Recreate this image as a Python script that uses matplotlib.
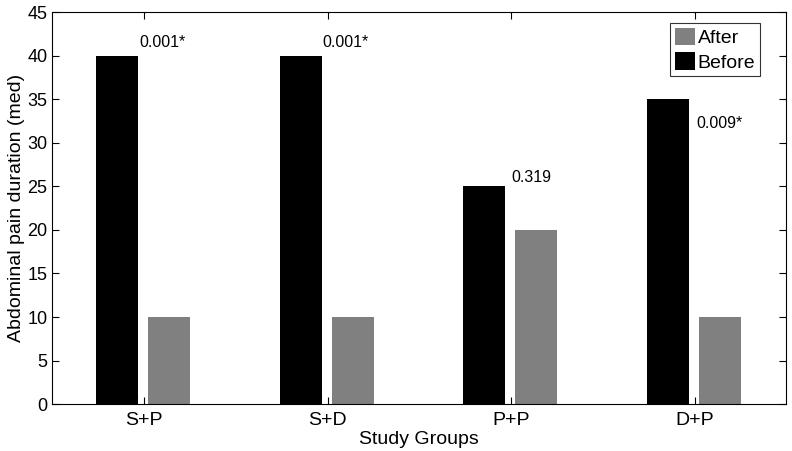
import matplotlib.pyplot as plt
import numpy as np

plt.rcParams['font.family'] = ['Liberation Sans', 'DejaVu Sans']

groups = ['S+P', 'S+D', 'P+P', 'D+P']
before = [40, 40, 25, 35]
after = [10, 10, 20, 10]
p_labels = ['0.001*', '0.001*', '0.319', '0.009*']
p_ypos = [40.6, 40.6, 25.2, 31.3]
p_xoff = [0.005, 0.005, 0.03, 0.04]

x = np.arange(1, len(groups) + 1)
w = 0.23

fig = plt.figure(figsize=(7.92, 4.51), dpi=100)
ax = fig.add_axes([0.066, 0.104, 0.927, 0.869])

b_before = ax.bar(x - 0.146, before, w, color='black', label='Before')
b_after = ax.bar(x + 0.137, after, w, color='#808080', label='After')

for xi, lab, yp, xo in zip(x, p_labels, p_ypos, p_xoff):
    ax.text(xi - 0.146 + w / 2 + xo, yp, lab, fontsize=11.5, ha='left', va='bottom')

ax.set_xlim(0.5, 4.5)
ax.set_ylim(0, 45)
ax.set_yticks(range(0, 46, 5))
ax.set_xticks(x)
ax.set_xticklabels(groups)
ax.tick_params(direction='in', top=True, right=True, length=5)
ax.tick_params(axis='y', labelsize=13)
ax.tick_params(axis='x', labelsize=14, pad=6)
ax.set_xlabel('Study Groups', fontsize=14, labelpad=1)
ax.set_ylabel('Abdominal pain duration (med)', fontsize=14, labelpad=2)

leg = ax.legend(handles=[b_after, b_before], loc='upper right', fontsize=14,
                fancybox=False, edgecolor='black', handlelength=1.0, handleheight=1.0,
                handletextpad=0.15, borderpad=0.25, labelspacing=0.25,
                borderaxespad=0, bbox_to_anchor=(0.964, 0.972))
leg.get_frame().set_linewidth(0.8)

fig.savefig('out.png', dpi=100)
